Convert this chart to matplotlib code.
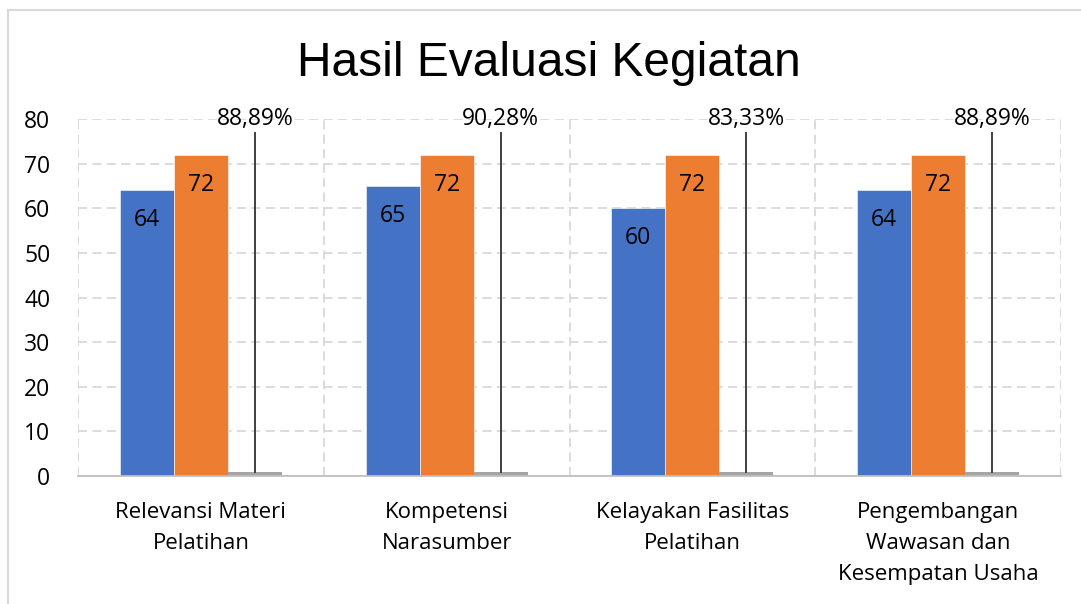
import matplotlib.pyplot as plt
import numpy as np

categories = ['Relevansi Materi\nPelatihan', 'Kompetensi\nNarasumber',
              'Kelayakan Fasilitas\nPelatihan', 'Pengembangan\nWawasan dan\nKesempatan Usaha']
blue_vals = [64, 65, 60, 64]
orange_vals = [72, 72, 72, 72]
pct_vals = [0.8889, 0.9028, 0.8333, 0.8889]
pct_labels = ['88,89%', '90,28%', '83,33%', '88,89%']

BLUE = '#4472C4'
ORANGE = '#ED7D31'
GRAY = '#A5A5A5'
FONT = 'Open Sans'

fig = plt.figure(figsize=(10.81, 6.04), dpi=100)
ax = fig.add_axes([0.0722, 0.2119, 0.9093, 0.5911])

x = np.arange(len(categories))
w = 0.22

ax.bar(x - w, blue_vals, w, color=BLUE, edgecolor='white', linewidth=0.4, zorder=3)
ax.bar(x, orange_vals, w, color=ORANGE, edgecolor='white', linewidth=0.4, zorder=3)
ax.bar(x + w, pct_vals, w, color=GRAY, zorder=3)

for i in range(len(categories)):
    ax.text(x[i] - w, blue_vals[i] - 6.7, str(blue_vals[i]), ha='center', va='center',
            fontsize=16.5, family=FONT, zorder=4)
    ax.text(x[i], orange_vals[i] - 6.7, str(orange_vals[i]), ha='center', va='center',
            fontsize=16.5, family=FONT, zorder=4)
    # leader line from tiny bar to its label
    ax.plot([x[i] + w, x[i] + w], [pct_vals[i], 76.8], color='#404040', lw=1.4, zorder=4)
    ax.text(x[i] + w, 80.0, pct_labels[i], ha='center', va='center',
            fontsize=16.5, family=FONT, zorder=4)

ax.set_xlim(-0.5, len(categories) - 0.5)
ax.set_ylim(0, 80)
ax.set_yticks(np.arange(0, 81, 10))
ax.set_xticks(x)
ax.set_xticklabels(categories, fontsize=16, family=FONT, linespacing=1.62)
ax.tick_params(axis='both', length=0)
ax.tick_params(axis='y', pad=20, labelsize=16.5)
ax.tick_params(axis='x', pad=19)
for lbl in ax.get_yticklabels():
    lbl.set_family(FONT)

ax.grid(axis='y', color='#D9D9D9', linestyle=(0, (5, 3)), lw=1.3, zorder=0)
for b in np.arange(-0.5, len(categories), 1.0):
    ax.axvline(b, color='#D9D9D9', linestyle=(0, (5, 3)), lw=1.3, zorder=0)

for s in ['top', 'right', 'left']:
    ax.spines[s].set_visible(False)
ax.spines['bottom'].set_color('#BFBFBF')
ax.spines['bottom'].set_linewidth(1.3)
ax.spines['bottom'].set_zorder(5)

fig.text(0.508, 0.895, 'Hasil Evaluasi Kegiatan', ha='center', va='center',
         fontsize=34.5, family='Liberation Sans')

# light chart frame (left and top edges visible)
fig.add_artist(plt.Rectangle((0.0078, -0.05), 1.05, 1.0334, transform=fig.transFigure,
                             fill=False, edgecolor='#D9D9D9', lw=1.5))

fig.savefig('out.png', dpi=100)
